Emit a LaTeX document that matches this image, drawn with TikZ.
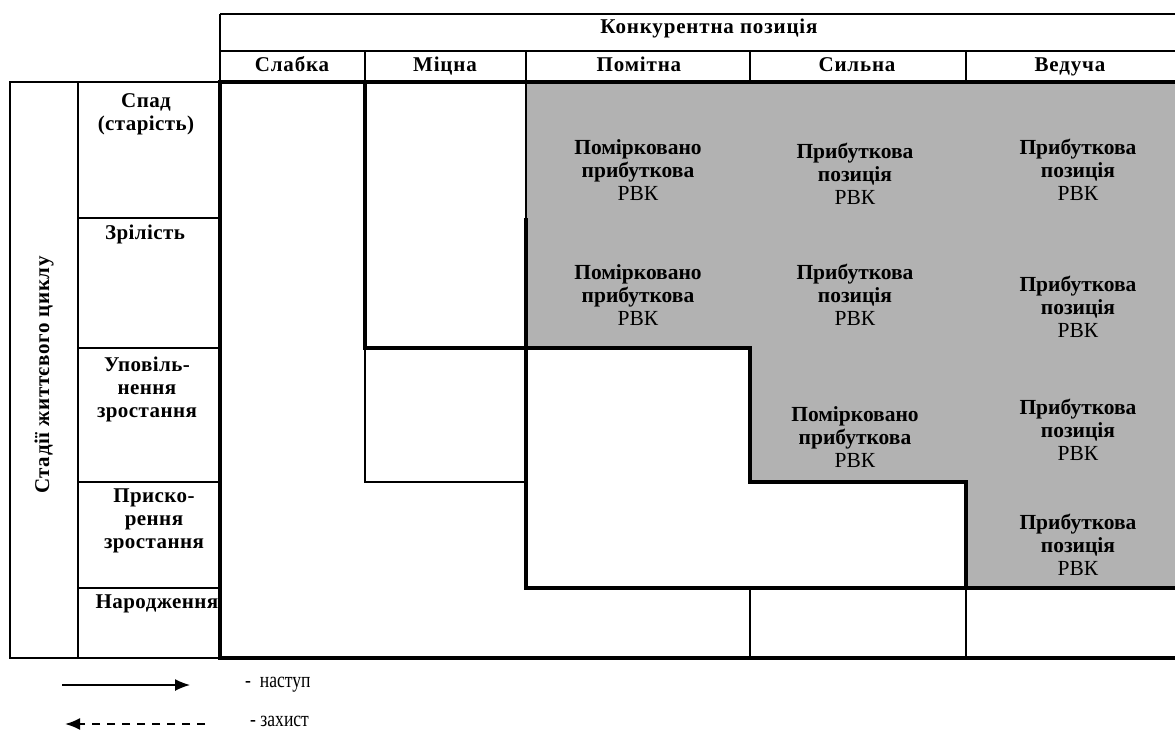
\documentclass[tikz,border=0pt]{standalone}
\usepackage{fontspec}
\setmainfont{Liberation Serif}
\newfontfamily\spacedfont[LetterSpace=2]{Liberation Serif}
\newfontfamily\wideheadfont[LetterSpace=4]{Liberation Serif}
\newfontfamily\sidefont[LetterSpace=3]{Liberation Serif}
\newfontfamily\legendfont[FakeStretch=0.8]{Liberation Serif}
\usetikzlibrary{arrows.meta, positioning}
\tikzset{
  hair/.style={line width=1.5pt},
  heavy/.style={line width=4.5pt},
  cell/.style={align=center, inner sep=0pt, font=\fontsize{21.5}{23}\selectfont\bfseries},
  stage/.style={align=center, anchor=north, inner sep=0pt, font=\spacedfont\fontsize{21}{23}\selectfont\bfseries},
  colhead/.style={inner sep=0pt, text height=14pt, text depth=4pt, font=\wideheadfont\fontsize{21}{23}\selectfont\bfseries},
  legendtext/.style={anchor=west, inner sep=0pt, font=\legendfont\fontsize{22}{20}\selectfont}
}
\begin{document}
\begin{tikzpicture}[x=1pt, y=-1pt]
  \useasboundingbox (0,0) rectangle (1175,731);
  \fill[black!30] (526,82) -- (1175,82) -- (1175,588) -- (966,588) -- (966,482)
    -- (750,482) -- (750,348) -- (526,348) -- cycle;
  \draw[line width=2.5pt] (220,14) -- (1175,14);
  \draw[hair] (220,14) -- (220,82);
  \draw[line width=2pt] (220,51) -- (1175,51);
  \draw[hair] (365,51) -- (365,82) (526,51) -- (526,82) (750,51) -- (750,82) (966,51) -- (966,82);
  \draw[hair] (10,82) rectangle (220,658);
  \draw[hair] (78,82) -- (78,658);
  \draw[hair] (78,218) -- (220,218) (78,348) -- (220,348) (78,482) -- (220,482) (78,588) -- (220,588);
  \draw[hair] (365,348) -- (365,482) -- (526,482);
  \draw[hair] (526,82) -- (526,218);
  \draw[hair] (750,588) -- (750,658);
  \draw[line width=2.5pt] (966,588) -- (966,658);
  \draw[heavy] (220,82) -- (1175,82);
  \draw[heavy] (220,80) -- (220,658) -- (1175,658);
  \draw[heavy] (365,82) -- (365,348) -- (750,348) -- (750,482) -- (966,482) -- (966,588) -- (1175,588);
  \draw[heavy] (526,218) -- (526,588) -- (966,588);

  \node[colhead] (konk) at (709,28) {Конкурентна позиція};
  \node[colhead] (slabka) at (292,66) {Слабка};
  \node[colhead] (mitsna) at (445,66) {Міцна};
  \node[colhead] (pomitna) at (639,66) {Помітна};
  \node[colhead] (sylna) at (857,66) {Сильна};
  \node[colhead] (veducha) at (1070,66) {Ведуча};

  \node[rotate=90, inner sep=0pt, font=\sidefont\fontsize{21}{23}\selectfont\bfseries] (stadii) at (44,375) {Стадії життєвого циклу};
  \node[stage] (spad) at (146,93) {Спад\\(старість)};
  \node[stage] (zrilist) at (145,225) {Зрілість};
  \node[stage] (upovil) at (147,357) {Уповіль-\\нення\\зростання};
  \node[stage] (pryskor) at (154,489) {Приско-\\рення\\зростання};
  \node[stage] (narodzh) at (157,595) {Народження};

  \node[cell] (c11) at (638,170) {Помірковано\\прибуткова\\{\mdseries РВК}};
  \node[cell] (c12) at (855,174) {Прибуткова\\позиція\\{\mdseries РВК}};
  \node[cell] (c13) at (1078,170) {Прибуткова\\позиція\\{\mdseries РВК}};
  \node[cell] (c21) at (638,295) {Помірковано\\прибуткова\\{\mdseries РВК}};
  \node[cell] (c22) at (855,295) {Прибуткова\\позиція\\{\mdseries РВК}};
  \node[cell] (c23) at (1078,307) {Прибуткова\\позиція\\{\mdseries РВК}};
  \node[cell] (c32) at (855,437) {Помірковано\\прибуткова\\{\mdseries РВК}};
  \node[cell] (c33) at (1078,430) {Прибуткова\\позиція\\{\mdseries РВК}};
  \node[cell] (c43) at (1078,545) {Прибуткова\\позиція\\{\mdseries РВК}};

  \coordinate (nstart) at (62,685);
  \coordinate (nend) at (190,685);
  \coordinate (zstart) at (205,724);
  \coordinate (zend) at (65,724);
  \draw[hair, -{Latex[length=15pt, width=12pt]}] (nstart) -- (nend);
  \draw[line width=2pt, dash pattern=on 8pt off 7pt, -{Latex[length=15pt, width=12pt]}] (zstart) -- (zend);
  \node[legendtext] (nastup) at (245,685) {-\ \ наступ};
  \node[legendtext] (zakhyst) at (250,721) {- захист};
\end{tikzpicture}
\end{document}
